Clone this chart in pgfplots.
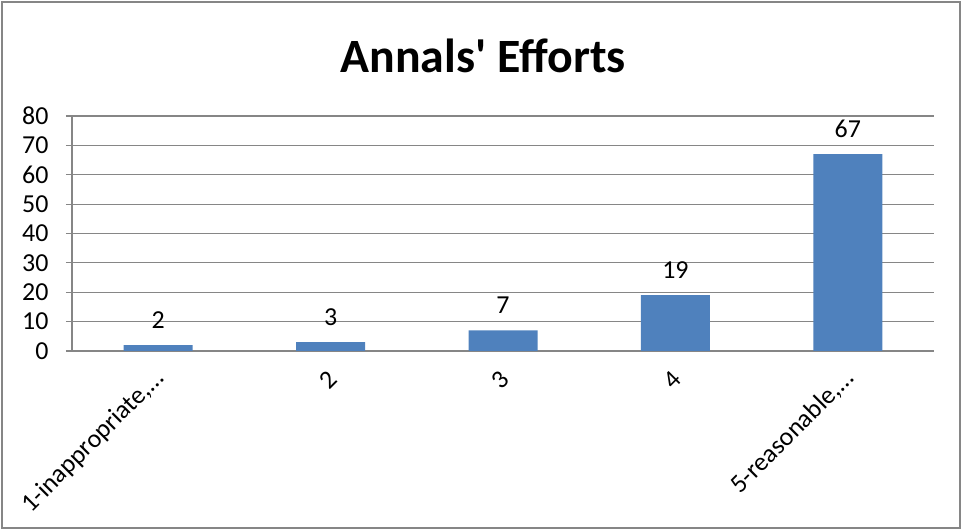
\documentclass[border=0pt]{standalone}
\usepackage{pgfplots}
\pgfplotsset{compat=1.18}
\usepackage{fontspec}
\setmainfont{Carlito}
\definecolor{barblue}{HTML}{4F81BD}
\definecolor{axgray}{HTML}{868686}
\begin{document}
\begin{tikzpicture}[x=1bp,y=1bp]
  \begin{axis}[
      at={(0,0)}, anchor=south west,
      scale only axis,
      width=862bp, height=235bp,
      xmin=-0.5, xmax=4.5,
      ymin=0, ymax=80,
      ytick={0,10,...,80},
      xtick={0,1,2,3,4},
      minor xtick={-0.5,0.5,...,4.5},
      axis x line*=bottom,
      axis y line*=left,
      axis line style={axgray, line width=1.2bp, -},
      ymajorgrids,
      grid style={axgray, line width=1.2bp},
      tick align=outside,
      major tick length=6bp,
      minor tick length=7bp,
      every tick/.style={axgray, line width=1.2bp},
      every x tick/.style={draw=none},
      every minor x tick/.style={axgray, line width=1.2bp},
      tick label style={font=\fontsize{26}{30}\selectfont},
      /pgf/number format/assume math mode=true,
      yticklabel style={xshift=-14bp},
      xticklabel style={rotate=45, anchor=east, yshift=-14bp, xshift=-8bp},
      xticklabels={{1-inappropriate,…}, 2, 3, 4, {5-reasonable,…}},
      title={\fontsize{48}{52}\selectfont\bfseries Annals\textquotesingle\ Efforts},
      title style={at={(0.5,1)}, anchor=south, yshift=34bp, xshift=-20bp},
      nodes near coords,
      every node near coord/.style={font=\fontsize{26}{30}\selectfont, black, yshift=13bp},
      clip=false,
    ]
    \addplot[ybar, bar width=69bp, fill=barblue, draw=none] coordinates {
      (0,2) (1,3) (2,7) (3,19) (4,67)
    };
  \end{axis}
  \draw[axgray, line width=1.5bp] (-70,-177) rectangle (888,349);
  \useasboundingbox (-72,-180) rectangle (891,351);
\end{tikzpicture}
\end{document}
